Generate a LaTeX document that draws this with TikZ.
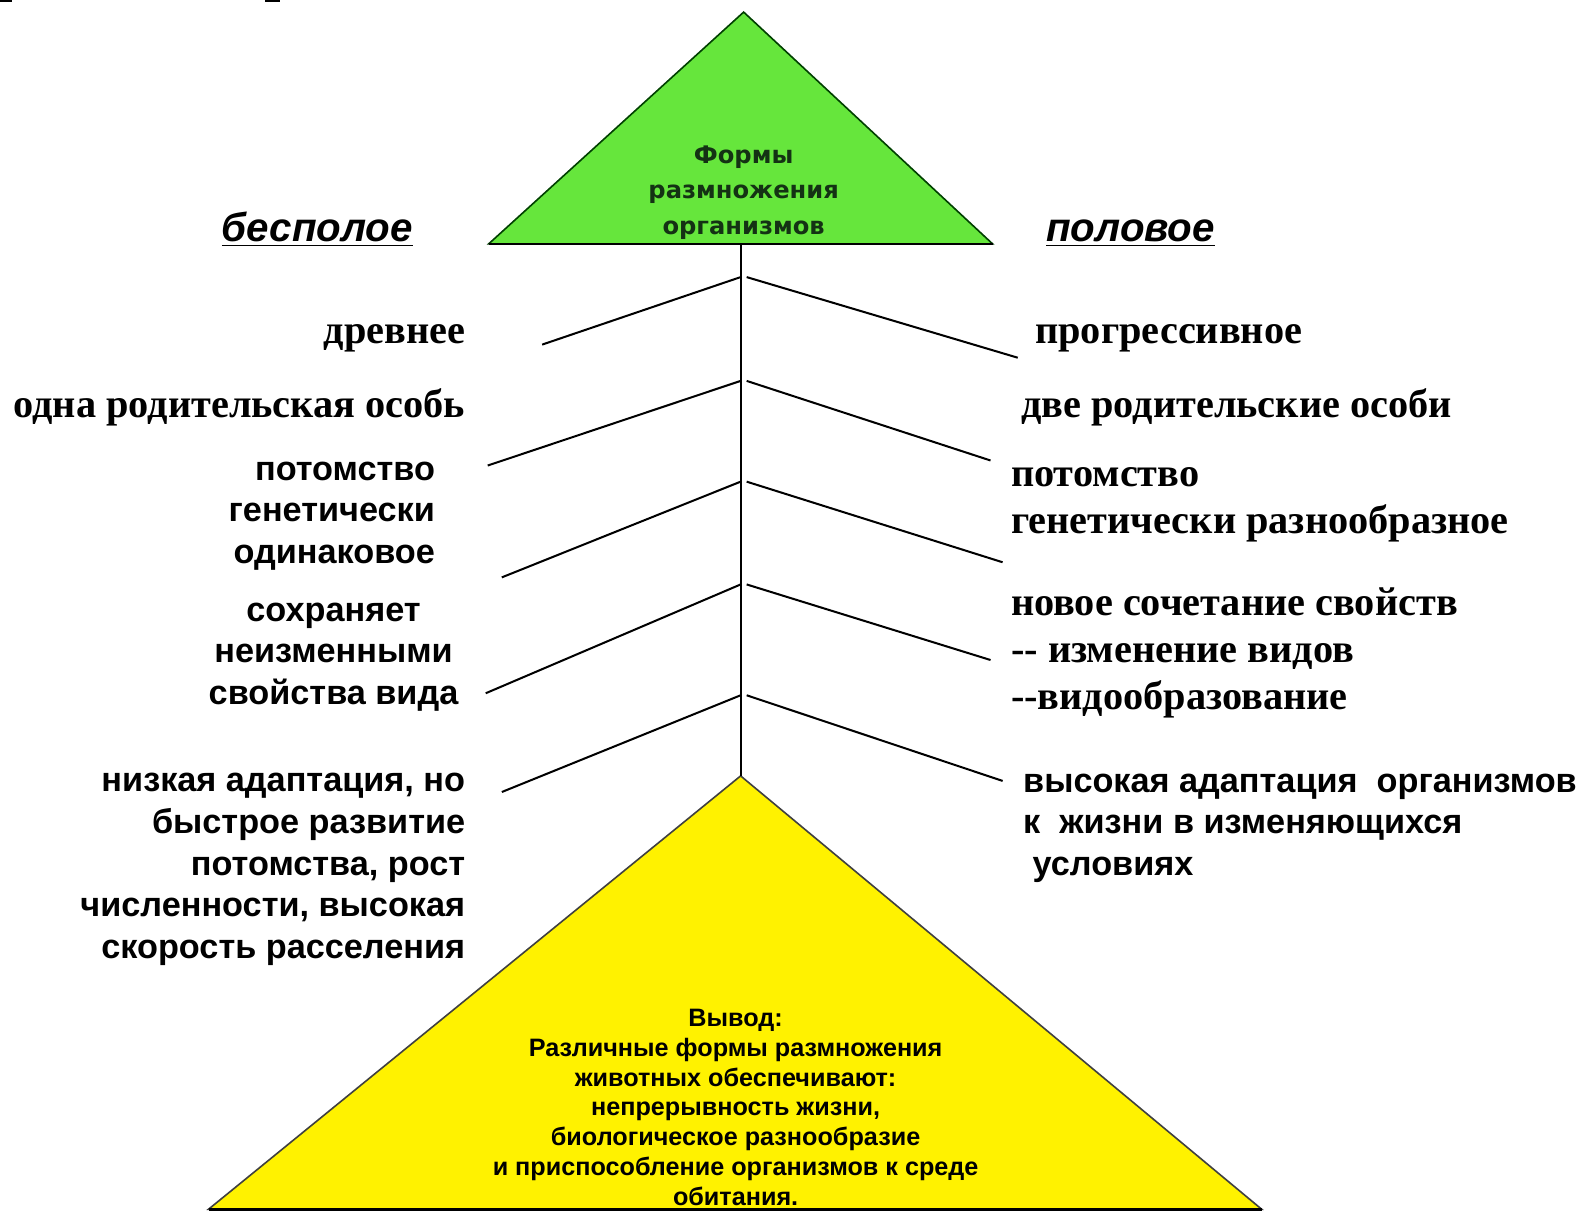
\documentclass[tikz,border=0pt]{standalone}
\usepackage{fontspec}
\setmainfont{Liberation Serif}
\setsansfont{Liberation Sans}
\newfontfamily\titlefont{DejaVu Sans}
\usetikzlibrary{positioning}
\definecolor{topgreen}{RGB}{102,230,60}
\definecolor{titleink}{RGB}{20,50,20}

\tikzset{
  serifitem/.style={font=\fontsize{20}{23.5}\selectfont\bfseries, inner sep=0pt},
  sansitem/.style={font=\sffamily\bfseries\fontsize{17}{20.7}\selectfont, inner sep=0pt},
  heading/.style={font=\sffamily\bfseries\itshape\fontsize{20}{24}\selectfont, inner sep=0pt, anchor=base},
  branch/.style={line width=1pt},
}

\begin{document}
\begin{tikzpicture}[x=0.5pt, y=-0.5pt]
\useasboundingbox (0,0) rectangle (1568,1208);

% Corner marks
\fill (0,0) rectangle (12,2);
\fill (263,0) rectangle (278,2);

% Top triangle
\coordinate (green apex) at (738,12);
\coordinate (green left) at (485,242);
\coordinate (green right) at (985,242);
\draw[fill=topgreen, draw=green!25!black, line width=0.8pt] (green apex) -- (green right) -- (green left) -- cycle;
\draw[line width=1.2pt] (green left) -- (green right);
\node[font=\titlefont\bfseries\fontsize{12}{17.5}\selectfont, text=titleink, align=center, inner sep=0pt] (forms) at (738,191) {Формы\\размножения\\организмов};

% Headings
\node[heading] (asexual) at (315,240) {\underline{бесполое}};
\node[heading] (sexual) at (1122,240) {\underline{половое}};

% Bottom triangle
\coordinate (yellow apex) at (735,770);
\coordinate (yellow left) at (207,1200);
\coordinate (yellow right) at (1252,1200);
\draw[fill=yellow, draw=black!75, line width=0.8pt] (yellow apex) -- (yellow right) -- (yellow left) -- cycle;
\draw[line width=1.4pt] (yellow left) -- (yellow right);
\node[font=\sffamily\bfseries\fontsize{12.5}{14.8}\selectfont, align=center, inner sep=0pt] (summary) at (730,1099)
  {Вывод:\\Различные формы размножения\\животных обеспечивают:\\непрерывность жизни,\\биологическое разнообразие\\и приспособление организмов к среде\\обитания.};

% Stem
\coordinate (stem top) at (735,242);
\draw[branch] (stem top) -- (yellow apex);

% Branches
\foreach \y/\lx/\ly/\rx/\ry [count=\i] in {275/538/342/1010/355, 378/484/462/983/457, 478/498/573/995/558, 580/482/688/983/655, 690/498/786/995/775} {
    \coordinate (fork\i) at (735,\y);
    \coordinate (left end\i) at (\lx,\ly);
    \coordinate (right end\i) at (\rx,\ry);
    \draw[branch] (fork\i) -- (left end\i);
    \draw[branch] ([xshift=3pt]fork\i) -- (right end\i);
}

% Asexual side
\node[serifitem, anchor=east] (ancient) at (462,336) {древнее};
\node[serifitem, anchor=east] (one parent) at (462,404) {одна родительская особь};
\node[sansitem, anchor=east, align=right] (same offspring) at (432,512) {потомство\\генетически\\одинаковое};
\node[sansitem, align=center] (keeps) at (331,652) {сохраняет\\неизменными\\свойства вида};
\node[sansitem, anchor=east, align=right] (low adapt) at (462,863) {низкая адаптация, но\\быстрое развитие\\потомства, рост\\численности, высокая\\скорость расселения};

% Sexual side
\node[serifitem, anchor=west] (progressive) at (1027,336) {прогрессивное};
\node[serifitem, anchor=west] (two parents) at (1013,404) {две родительские особи};
\node[serifitem, anchor=west, align=left] (diverse) at (1003,501) {потомство\\генетически разнообразное};
\node[serifitem, anchor=west, align=left] (new combo) at (1003,648) {новое сочетание свойств\\{-}{-} изменение видов\\{-}{-}видообразование};
\node[sansitem, anchor=west, align=left] (high adapt) at (1015,822) {высокая адаптация\ \ организмов\\к\ \ жизни в изменяющихся\\\ условиях};

\end{tikzpicture}
\end{document}
